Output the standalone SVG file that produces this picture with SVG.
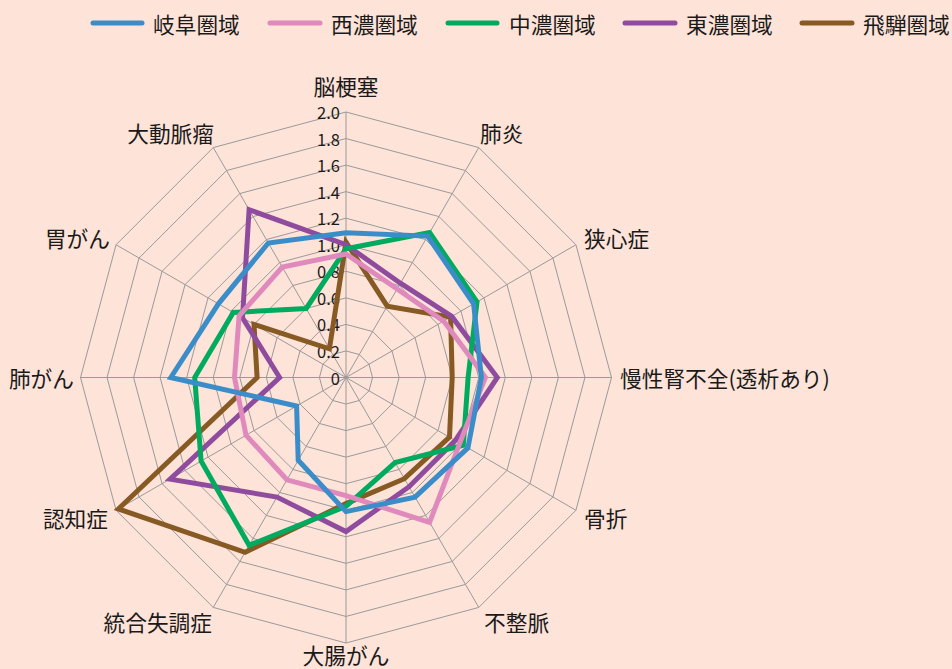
<svg xmlns="http://www.w3.org/2000/svg" width="952" height="669" viewBox="0 0 952 669">
<style>
text{font-family:"Noto Sans CJK JP","Noto Sans",sans-serif;fill:#1a1a1a;dominant-baseline:central}
.cat{font-size:21.7px}
.tick{font-size:16.5px;text-anchor:end}
.leg{font-size:21.7px}
.grid{fill:none;stroke:#9a9a9a;stroke-width:1}
.s{fill:none;stroke-width:5;stroke-linejoin:miter}
.ll{stroke-width:5;stroke-linecap:round}
</style>
<rect width="952" height="669" fill="#fde3d8"/>
<g id="legend">
<line class="ll" x1="93" y1="23" x2="142" y2="23" stroke="#3a8dc9"/><text class="leg" x="153" y="23">岐阜圏域</text>
<line class="ll" x1="270" y1="23" x2="320" y2="23" stroke="#df89bd"/><text class="leg" x="331" y="23">西濃圏域</text>
<line class="ll" x1="448" y1="23" x2="497" y2="23" stroke="#00aa5e"/><text class="leg" x="509" y="23">中濃圏域</text>
<line class="ll" x1="625" y1="23" x2="675" y2="23" stroke="#8f4c9e"/><text class="leg" x="686" y="23">東濃圏域</text>
<line class="ll" x1="802" y1="23" x2="852" y2="23" stroke="#875a24"/><text class="leg" x="863" y="23">飛騨圏域</text>
</g>
<g id="grid" transform="translate(346 377.5)">
<polygon class="grid" points="0,-26.55 13.28,-22.99 22.99,-13.28 26.55,0 22.99,13.28 13.28,22.99 0,26.55 -13.28,22.99 -22.99,13.28 -26.55,0 -22.99,-13.28 -13.28,-22.99"/>
<polygon class="grid" points="0,-53.1 26.55,-45.99 45.99,-26.55 53.1,0 45.99,26.55 26.55,45.99 0,53.1 -26.55,45.99 -45.99,26.55 -53.1,0 -45.99,-26.55 -26.55,-45.99"/>
<polygon class="grid" points="0,-79.65 39.83,-68.98 68.98,-39.83 79.65,0 68.98,39.83 39.83,68.98 0,79.65 -39.83,68.98 -68.98,39.83 -79.65,0 -68.98,-39.83 -39.83,-68.98"/>
<polygon class="grid" points="0,-106.2 53.1,-91.97 91.97,-53.1 106.2,0 91.97,53.1 53.1,91.97 0,106.2 -53.1,91.97 -91.97,53.1 -106.2,0 -91.97,-53.1 -53.1,-91.97"/>
<polygon class="grid" points="0,-132.75 66.38,-114.96 114.96,-66.38 132.75,0 114.96,66.38 66.38,114.96 0,132.75 -66.38,114.96 -114.96,66.38 -132.75,0 -114.96,-66.38 -66.38,-114.96"/>
<polygon class="grid" points="0,-159.3 79.65,-137.96 137.96,-79.65 159.3,0 137.96,79.65 79.65,137.96 0,159.3 -79.65,137.96 -137.96,79.65 -159.3,0 -137.96,-79.65 -79.65,-137.96"/>
<polygon class="grid" points="0,-185.85 92.93,-160.95 160.95,-92.93 185.85,0 160.95,92.93 92.93,160.95 0,185.85 -92.93,160.95 -160.95,92.93 -185.85,0 -160.95,-92.93 -92.93,-160.95"/>
<polygon class="grid" points="0,-212.4 106.2,-183.94 183.94,-106.2 212.4,0 183.94,106.2 106.2,183.94 0,212.4 -106.2,183.94 -183.94,106.2 -212.4,0 -183.94,-106.2 -106.2,-183.94"/>
<polygon class="grid" points="0,-238.95 119.48,-206.93 206.93,-119.48 238.95,0 206.93,119.48 119.48,206.93 0,238.95 -119.48,206.93 -206.93,119.48 -238.95,0 -206.93,-119.48 -119.48,-206.93"/>
<polygon class="grid" points="0,-265.5 132.75,-229.93 229.93,-132.75 265.5,0 229.93,132.75 132.75,229.93 0,265.5 -132.75,229.93 -229.93,132.75 -265.5,0 -229.93,-132.75 -132.75,-229.93"/>
<path class="grid" d="M0,-265.5V265.5M132.75,-229.93L-132.75,229.93M229.93,-132.75L-229.93,132.75M-265.5,0H265.5M229.93,132.75L-229.93,-132.75M132.75,229.93L-132.75,-229.93"/>
</g>
<g id="ticks">
<text class="tick" x="340" y="377.5">0</text>
<text class="tick" x="340" y="350.95">0.2</text>
<text class="tick" x="340" y="324.4">0.4</text>
<text class="tick" x="340" y="297.85">0.6</text>
<text class="tick" x="340" y="271.3">0.8</text>
<text class="tick" x="340" y="244.75">1.0</text>
<text class="tick" x="340" y="218.2">1.2</text>
<text class="tick" x="340" y="191.65">1.4</text>
<text class="tick" x="340" y="165.1">1.6</text>
<text class="tick" x="340" y="138.55">1.8</text>
<text class="tick" x="340" y="112">2.0</text>
</g>
<g id="labels">
<text class="cat" x="346" y="85" text-anchor="middle">脳梗塞</text>
<text class="cat" x="480" y="132">肺炎</text>
<text class="cat" x="584" y="237">狭心症</text>
<text class="cat" x="620" y="377">慢性腎不全(透析あり)</text>
<text class="cat" x="584" y="517">骨折</text>
<text class="cat" x="484" y="621">不整脈</text>
<text class="cat" x="346" y="654" text-anchor="middle">大腸がん</text>
<text class="cat" x="212" y="621" text-anchor="end">統合失調症</text>
<text class="cat" x="108" y="517" text-anchor="end">認知症</text>
<text class="cat" x="74" y="377" text-anchor="end">肺がん</text>
<text class="cat" x="110" y="237" text-anchor="end">胃がん</text>
<text class="cat" x="214" y="132" text-anchor="end">大動脈瘤</text>
</g>
<g id="series" transform="translate(346 377.5)">
<polygon id="hida" class="s" stroke="#875a24" points="0,-135.4 41.2,-71.3 104.6,-60.4 106.2,0 103.5,59.7 58.4,101.2 0,126.1 -100.9,174.8 -227.6,131.4 -88.9,0 -92,-53.1 -16.6,-28.7"/>
<polygon id="tono" class="s" stroke="#8f4c9e" points="0,-132.8 54.4,-94.3 105.8,-61.1 151.3,0 109.2,63.1 63.1,109.2 0,154 -69,119.6 -175.9,101.6 -66.4,0 -103.5,-59.7 -96.9,-167.8"/>
<polygon id="chuno" class="s" stroke="#00aa5e" points="0,-128.8 83.6,-144.9 131,-75.7 122.1,0 117.3,67.7 49.1,85.1 0,128.8 -96.9,167.8 -144.9,83.6 -151.3,0 -112.7,-65 -39.8,-69"/>
<polygon id="seino" class="s" stroke="#df89bd" points="0,-123.5 51.1,-88.5 97.7,-56.4 139.4,0 113.8,65.7 83.6,144.9 0,118.1 -59.1,102.3 -100,57.7 -111.5,0 -106.9,-61.7 -63.7,-110.4"/>
<polygon id="gifu" class="s" stroke="#3a8dc9" points="0,-144.7 81.6,-141.4 127.6,-73.7 135.4,0 121.9,70.4 69,119.6 0,134.1 -47.8,82.8 -49.4,28.5 -175.2,0 -127.6,-73.7 -77.7,-134.5"/>
</g>
</svg>
